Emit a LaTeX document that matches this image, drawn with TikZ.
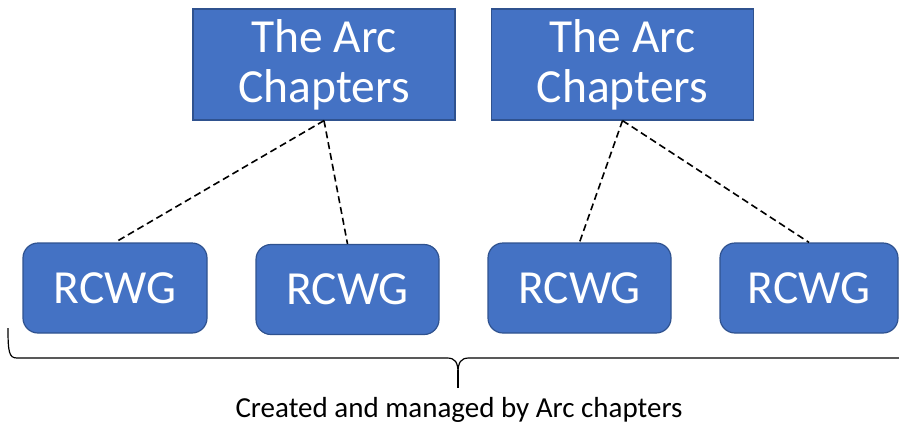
\documentclass[tikz,border=0pt]{standalone}
\usepackage{fontspec}
\setmainfont{Carlito}
\definecolor{arcblue}{HTML}{4472C4}
\definecolor{arcedge}{HTML}{2F528F}
\begin{document}
\begin{tikzpicture}[x=1pt,y=-1pt,
    chapterbox/.style={draw=arcedge,fill=arcblue,line width=1.2pt,text=white,
        align=center,inner sep=0pt,minimum width=262pt,minimum height=111pt,
        font=\fontsize{47.5}{50}\selectfont},
    wgbox/.style={chapterbox,rounded corners=15pt,minimum height=90pt},
    link/.style={line width=1.6pt,dash pattern=on 7pt off 4pt}]
    \useasboundingbox (0,0) rectangle (899,424);
    \clip (0,0) rectangle (899,424);
    % top level
    \node[chapterbox] (c1) at (324,64.5) {The Arc\\Chapters};
    \node[chapterbox] (c2) at (622.5,64.5) {The Arc\\Chapters};
    % working groups
    \foreach \n/\x/\y/\w in {1/115/288/184, 2/347.5/289.5/183, 3/579.5/288/183, 4/809/288/178} {
        \node[wgbox,minimum width=\w pt] (r\n) at (\x,\y) {RCWG};
    }
    \foreach \a/\b in {c1/r1, c1/r2, c2/r3, c2/r4} {
        \draw[link] (\a.south) -- (\b.north);
    }
    % brace
    \draw[line width=1.2pt] (8,328) .. controls (8,352) and (9,358) .. (17,358) -- (447,358)
        .. controls (455,358) and (458,362) .. (458,373)
        .. controls (458,362) and (461,358) .. (469,358) -- (905,358);
    \draw[line width=1.4pt] (458,370) -- (458,388);
    \node[anchor=base,font=\fontsize{29}{34}\selectfont] (note) at (459,417) {Created and managed by Arc chapters};
\end{tikzpicture}
\end{document}
